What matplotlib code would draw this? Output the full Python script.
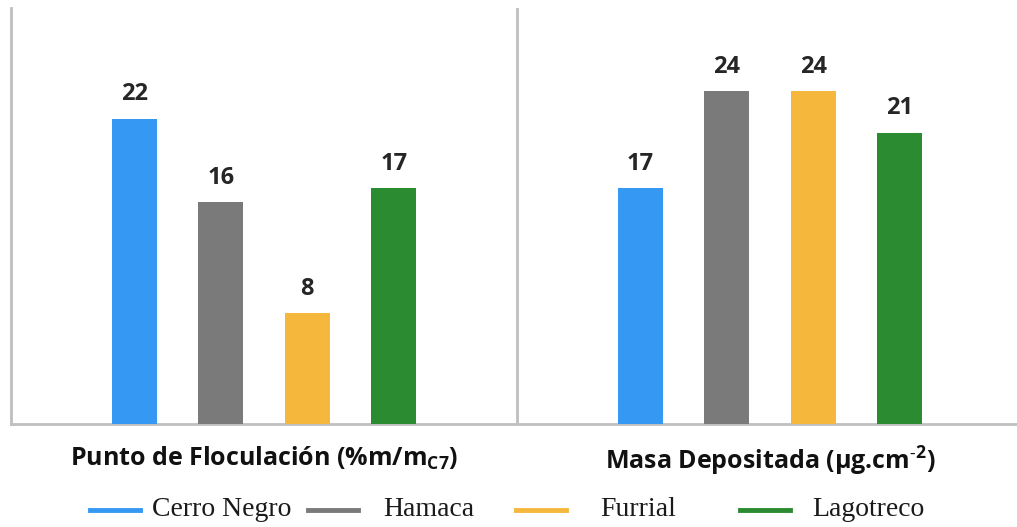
import matplotlib
matplotlib.use("Agg")
import matplotlib.pyplot as plt
from matplotlib.lines import Line2D
import numpy as np

categories = ["Punto de Floculación (%m/m$_{\\mathregular{C7}}$)",
              "Masa Depositada ($\\mathregular{\\mu}$g.cm$^{\\mathregular{\u20102}}$)"]
series_names = ["Cerro Negro", "Hamaca", "Furrial", "Lagotreco"]
cerro_negro = [22, 17]
hamaca = [16, 24]
furrial = [8, 24]
lagotreco = [17, 21]
colors = ["#3598F2", "#7A7A7A", "#F5B73C", "#2B8B30"]

plt.rcParams['mathtext.default'] = 'regular'
fig = plt.figure(figsize=(10.17, 5.27), dpi=100)
ax = fig.add_axes([11/1017, 103/527, 1012/1017, 416/527])
x = np.arange(len(categories))
series = [cerro_negro, hamaca, furrial, lagotreco]
step = 0.171
width = 0.089
for i, (vals, c) in enumerate(zip(series, colors)):
    pos = x + (i - 1.5) * step
    bars = ax.bar(pos, vals, width=width, color=c, zorder=3)
    for b, v in zip(bars, vals):
        ax.annotate(f"{v:.0f}", (b.get_x() + b.get_width()/2, v), xytext=(0, 9),
                    textcoords="offset points", ha="center", va="bottom",
                    fontsize=17, fontweight="bold", color="#262626", family="Open Sans")

ax.set_xlim(-0.5, 1.5)
ax.set_ylim(0, 30)
ax.set_yticks([])
ax.set_xticks(x)
ax.set_xticklabels(categories, fontsize=18, fontweight="bold", family="Open Sans", color="#111111")
ax.tick_params(axis="x", length=0, pad=15)
for s in ["top", "right"]:
    ax.spines[s].set_visible(False)
for s in ["left", "bottom"]:
    ax.spines[s].set_color("#BFBFBF")
    ax.spines[s].set_linewidth(2)
ax.axvline(0.5, color="#BFBFBF", lw=2, zorder=1)

# legend drawn manually: line start px, text start px
leg_line_x = [90, 308, 516, 740]
leg_text_x = [152, 383, 600, 812]
ly = 1 - 510/527
for name, c, lx, tx in zip(series_names, colors, leg_line_x, leg_text_x):
    fig.add_artist(Line2D([lx/1017, (lx+50)/1017], [ly, ly], color=c, lw=3.5,
                          transform=fig.transFigure))
    fig.text(tx/1017, ly, name, ha="left", va="center", family="Liberation Serif",
             fontsize=20, color="#1a1a1a")
fig.savefig("out.png", dpi=100)
